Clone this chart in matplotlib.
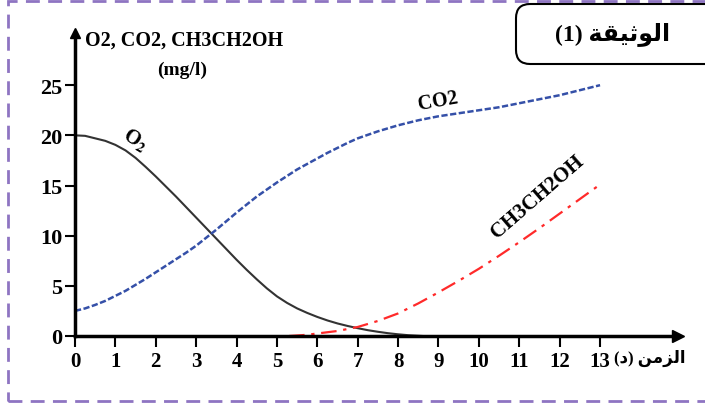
import numpy as np
import matplotlib
matplotlib.use("Agg")
import matplotlib.pyplot as plt
from matplotlib.patches import Rectangle, FancyBboxPatch

# ===============================
# Data
# ===============================
t_o2 = [0, 0.25, 0.5, 0.75, 1, 1.25, 1.5, 1.75, 2, 2.25, 2.5, 2.75, 3, 3.25, 3.5, 3.75,
        4, 4.25, 4.5, 4.75, 5, 5.25, 5.5, 5.75, 6, 6.25, 6.5, 6.75, 7, 7.25, 7.5, 7.75,
        8, 8.25, 8.6]
o2 = [20.0, 19.95, 19.7, 19.45, 19.05, 18.5, 17.75, 16.85, 15.9, 14.9, 13.9, 12.85,
      11.8, 10.75, 9.7, 8.65, 7.6, 6.6, 5.65, 4.75, 3.95, 3.3, 2.75, 2.3, 1.9, 1.55,
      1.25, 1.0, 0.78, 0.58, 0.42, 0.28, 0.17, 0.08, 0.0]

t_co2 = [0, 0.25, 0.5, 0.75, 1, 1.25, 1.5, 1.75, 2, 2.25, 2.5, 2.75, 3, 3.25, 3.5, 3.75,
         4, 4.25, 4.5, 4.75, 5, 5.25, 5.5, 5.75, 6, 6.25, 6.5, 6.75, 7, 7.5, 8, 8.5,
         9, 9.5, 10, 10.5, 11, 11.5, 12, 12.5, 13]
co2 = [2.5, 2.75, 3.1, 3.5, 4.0, 4.5, 5.1, 5.7, 6.35, 7.0, 7.65, 8.3, 9.0, 9.8, 10.6,
       11.45, 12.3, 13.1, 13.9, 14.6, 15.3, 15.95, 16.6, 17.15, 17.7, 18.25, 18.75,
       19.25, 19.7, 20.4, 21.0, 21.5, 21.9, 22.2, 22.5, 22.8, 23.2, 23.6, 24.0, 24.5, 25.0]

t_eth = [5.3, 5.75, 6, 6.5, 7, 7.5, 8, 8.5, 9, 9.5, 10, 10.5, 11, 11.5, 12, 12.5, 13]
eth = [0.0, 0.12, 0.25, 0.5, 0.9, 1.5, 2.25, 3.25, 4.35, 5.5, 6.7, 8.0, 9.35, 10.75,
       12.2, 13.65, 15.1]

x_ticks = list(range(0, 14))
y_ticks = [0, 5, 10, 15, 20, 25]

# Arabic text written in visual order with presentation forms
xlabel_ar = "(\uFEA9) \uFEE6\uFEE3\uFEB0\uFEDF\uFE8D"          # الزمن (د)
title_ar = "(1) \uFE94\uFED8\uFEF4\uFE9B\uFEEE\uFEDF\uFE8D"     # الوثيقة (1)

serif = ["Liberation Serif", "DejaVu Sans"]
plt.rcParams["font.family"] = serif
plt.rcParams["font.weight"] = "bold"
plt.rcParams["mathtext.fontset"] = "stix"

# ===============================
# Figure
# ===============================
W, H = 705, 406
fig = plt.figure(figsize=(W / 100, H / 100), dpi=100)

# dashed purple frame
fig.patches.append(Rectangle((8 / W, 4 / H), 1.2, 1 - 6 / H, transform=fig.transFigure,
                             fill=False, ec="#8e74c2", lw=2, ls=(0, (5, 3)), zorder=0))

# document label box
box = FancyBboxPatch((516 / W, 1 - 65 / H), 0.3, 60 / H, transform=fig.transFigure,
                     boxstyle="round,pad=0,rounding_size=0.02", fc="white", ec="black",
                     lw=1.5, zorder=2, mutation_aspect=W / H)
fig.patches.append(box)
fig.text(613 / W, 1 - 34 / H, title_ar, ha="center", va="center", fontsize=17,
         fontweight="bold", family=serif, zorder=3)

ax = fig.add_axes([75 / W, 1 - 337 / H, 603 / W, 303 / H])
ax.set_xlim(0, 14.93)
ax.set_ylim(0, 30.2)

ax.plot(t_o2, o2, color="#333333", lw=1.5)
ax.plot(t_co2, co2, color="#3550a8", lw=1.8, ls=(0, (2.5, 1)))
ax.plot(t_eth, eth, color="#ff2a2a", lw=1.6, ls=(0, (7, 3, 1.5, 3)))

# axes with arrows
for s in ["top", "right"]:
    ax.spines[s].set_visible(False)
ax.spines["left"].set_linewidth(2.5)
ax.spines["bottom"].set_linewidth(2.5)
ax.plot(1, 0, ">", color="black", ms=8, transform=ax.transAxes, clip_on=False)
ax.plot(0, 1, "^", color="black", ms=7, transform=ax.transAxes, clip_on=False)

ax.set_xticks(x_ticks)
ax.set_yticks(y_ticks)
ax.tick_params(axis="x", direction="out", length=8, width=1.5, labelsize=15, pad=3)
ax.tick_params(axis="y", direction="out", length=7, width=1.5, labelsize=16, pad=2)
for lab in ax.get_xticklabels() + ax.get_yticklabels():
    lab.set_fontweight("bold")

# axis titles
fig.text(184 / W, 1 - 41 / H, "O2, CO2, CH3CH2OH", ha="center", va="center",
         fontsize=14.5, fontweight="bold")
fig.text(182 / W, 1 - 70 / H, "(mg/l)", ha="center", va="center",
         fontsize=14, fontweight="bold")
fig.text(650 / W, 1 - 358 / H, xlabel_ar, ha="center", va="center", fontsize=12,
         fontweight="bold", family=serif)

# curve labels
ax.text(1.5, 19.6, "O$_2$", rotation=-32, ha="center", va="center", fontsize=15,
        fontweight="bold")
ax.text(9.0, 23.5, "CO2", rotation=10, ha="center", va="center", fontsize=14.5,
        fontweight="bold")
ax.text(11.45, 13.9, "CH3CH2OH", rotation=41, ha="center", va="center", fontsize=15,
        fontweight="bold")

fig.savefig("out.png", dpi=100)
